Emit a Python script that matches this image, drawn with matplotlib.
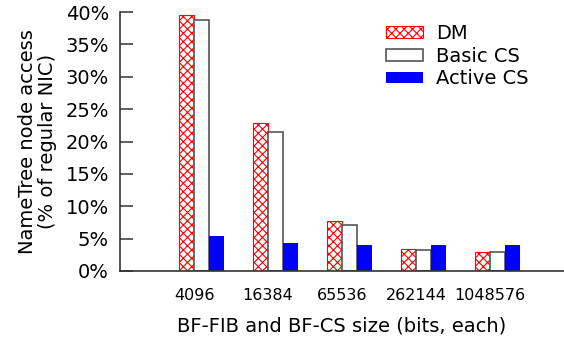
import matplotlib.pyplot as plt
import numpy as np

sizes = ["4096", "16384", "65536", "262144", "1048576"]
dm = [39.6, 22.8, 7.7, 3.35, 2.9]
basic_cs = [38.8, 21.5, 7.05, 3.25, 2.9]
active_cs = [5.4, 4.3, 4.0, 4.0, 4.0]

plt.rcParams["hatch.linewidth"] = 0.8

fig = plt.figure(figsize=(5.64, 3.45), dpi=100)
ax = fig.add_axes([0.2128, 0.2145, 0.7872, 0.7507])

x = np.arange(len(sizes))
w = 0.2

ax.bar(x - w, dm, w, align="edge", facecolor="white", edgecolor="red",
       hatch="xxxx", linewidth=0.8, label="DM")
ax.bar(x, basic_cs, w, align="edge", facecolor="white", edgecolor="#555555",
       linewidth=1.2, label="Basic CS")
ax.bar(x + w, active_cs, w, align="edge", facecolor="blue", edgecolor="none",
       label="Active CS")

ax.set_xlim(-1, 5)
ax.set_ylim(0, 40)
ax.set_xticks(x)
ax.set_xticklabels(sizes, fontsize=11.5)
ax.tick_params(axis="x", length=0, pad=12)
ax.set_yticks(np.arange(0, 41, 5))
ax.set_yticklabels([f"{v}%" for v in range(0, 41, 5)], fontsize=14)
ax.tick_params(axis="y", direction="in", length=9, width=1.2, color="#444444", pad=8)

for side in ["top", "right"]:
    ax.spines[side].set_visible(False)
for side in ["left", "bottom"]:
    ax.spines[side].set_linewidth(1.2)
    ax.spines[side].set_color("#333333")

ax.set_xlabel("BF-FIB and BF-CS size (bits, each)", fontsize=14, labelpad=10)
ax.set_ylabel("NameTree node access\n(% of regular NIC)", fontsize=14,
              linespacing=1.05, labelpad=6)

ax.legend(loc="upper right", bbox_to_anchor=(0.938, 0.985), frameon=False,
          fontsize=14, handlelength=1.9, handleheight=0.55, labelspacing=0.2,
          handletextpad=0.65, borderaxespad=0)

fig.savefig("out.png", dpi=100)
